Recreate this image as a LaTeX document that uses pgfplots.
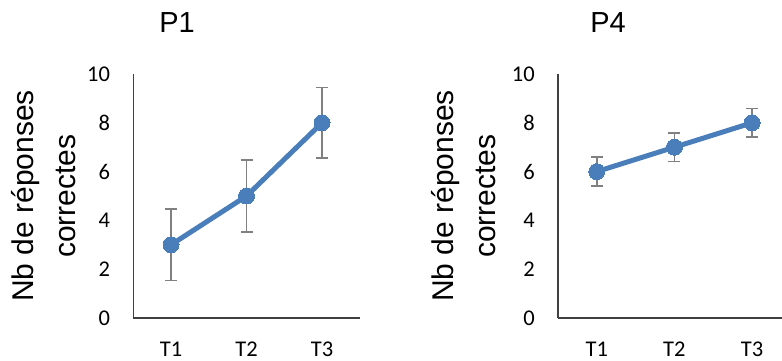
\documentclass[border=0pt]{standalone}
\usepackage{pgfplots}
\pgfplotsset{compat=1.18}
\usepackage{fontspec}
\setmainfont{Liberation Sans}
\newfontfamily\tickfont{Carlito}
\definecolor{lineblue}{HTML}{4A7EBB}
\definecolor{errgray}{HTML}{808080}
\definecolor{axisgray}{HTML}{404040}
\pgfplotsset{
  panel/.style={
    scale only axis,
    height=244bp,
    ymin=0, ymax=10,
    xmin=0.5, xmax=3.5,
    ytick={0,2,4,6,8,10},
    xtick={1,2,3},
    xticklabels={T1,T2,T3},
    axis x line*=bottom,
    axis y line*=left,
    axis line style={axisgray, line width=1.3bp},
    major tick length=0pt,
    tick style={draw=none},
    ticklabel style={font=\tickfont\fontsize{22.5bp}{26bp}\selectfont},
    /pgf/number format/assume math mode=true,
    yticklabel style={inner sep=0pt, anchor=east, xshift=-23bp},
    xticklabel style={inner sep=0pt, anchor=north, yshift=-23.5bp},
    anchor=south west,
    clip=false,
  },
  errplot/.style={
    draw=none, mark=none, forget plot,
    error bars/.cd, y dir=both, y explicit,
    error bar style={errgray, line width=1.8bp},
    error mark options={errgray, line width=1.8bp, mark size=6bp, rotate=90},
  },
  lineplot/.style={
    lineblue, line width=5bp, mark=*, mark size=8bp,
    mark options={fill=lineblue, draw=lineblue, line width=0pt},
  },
}
\begin{document}
\begin{tikzpicture}
\useasboundingbox (0bp,0bp) rectangle (782bp,361bp);
% left panel
\begin{axis}[panel, width=226.5bp, at={(133.25bp,43bp)}]
\addplot[errplot] table[x=x, y=y, y error=e] {
x y e
1 3 1.46
2 5 1.46
3 8 1.45
};
\addplot[lineplot] coordinates {(1,3) (2,5) (3,8)};
\end{axis}
% right panel
\begin{axis}[panel, width=233bp, at={(557.9bp,43bp)}]
\addplot[errplot] table[x=x, y=y, y error=e] {
x y e
1 6 0.59
2 7 0.59
3 8 0.59
};
\addplot[lineplot] coordinates {(1,6) (2,7) (3,8)};
\end{axis}
% titles
\node[font=\fontsize{29bp}{34bp}\selectfont, anchor=base] at (177bp,328bp) {P1};
\node[font=\fontsize{29bp}{34bp}\selectfont, anchor=base] at (608bp,328bp) {P4};
% y labels
\node[font=\fontsize{30bp}{42bp}\selectfont, rotate=90, align=center] at (44bp,165bp) {Nb de réponses\\correctes};
\node[font=\fontsize{30bp}{42bp}\selectfont, rotate=90, align=center] at (464bp,165bp) {Nb de réponses\\correctes};
\end{tikzpicture}
\end{document}
